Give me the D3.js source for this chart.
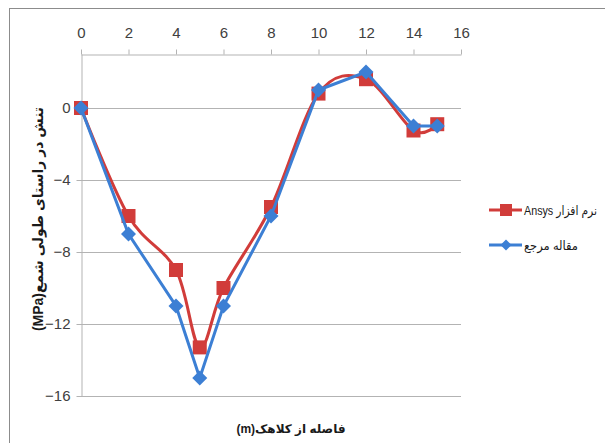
<!DOCTYPE html>
<html><head><meta charset="utf-8">
<script src="https://cdn.jsdelivr.net/npm/d3@7"></script>
<style>body{margin:0;background:#fff}svg{display:block}</style>
</head><body>
<svg id="c" width="605" height="443"></svg>
<script>
const xValues = [0, 2, 4, 5, 6, 8, 10, 12, 14, 15];
const ansysValues = [0, -6, -9, -13.3, -10, -5.5, 0.8, 1.6, -1.25, -0.9];
const refValues = [0, -7, -11, -15, -11, -6, 1.0, 2.0, -1.0, -1.0];
const xTicks = [0, 2, 4, 6, 8, 10, 12, 14, 16];
const yTicks = [0, -4, -8, -12, -16];
const seriesNames = ["نرم افزار Ansys", "مقاله مرجع"];
const xTitle = "فاصله از کلاهک(m)";
const yTitle = "تنش در راستای طولی شمع(MPa)";

const red = "#D13C3A", blue = "#3C7FD4";
const svg = d3.select("#c");
const font = "'Liberation Sans', 'DejaVu Sans', sans-serif";

// outer border
svg.append("rect").attr("x", 9.5).attr("y", 8.5).attr("width", 700).attr("height", 500)
  .attr("fill", "none").attr("stroke", "#8c8c8c").attr("stroke-width", 1);

const x = d3.scaleLinear().domain([0, 16]).range([81, 461]);
const y = d3.scaleLinear().domain([-16, 3]).range([396, 54]);

// gridlines
svg.append("g").selectAll("line").data(yTicks).join("line")
  .attr("x1", x(0)).attr("x2", x(16))
  .attr("y1", d => Math.round(y(d)) + 0.5).attr("y2", d => Math.round(y(d)) + 0.5)
  .attr("stroke", "#b3b3b3").attr("stroke-width", 1);

// top x axis
const xAxis = svg.append("g").attr("transform", `translate(0,${Math.round(y(3)) + 0.5})`)
  .call(d3.axisTop(x).tickValues(xTicks).tickSize(5).tickSizeOuter(0).tickFormat(d3.format("d")));
xAxis.select(".domain").attr("stroke", "#b3b3b3");
xAxis.selectAll(".tick line").attr("stroke", "#b3b3b3");
xAxis.selectAll("text").attr("font-family", font).attr("font-size", 15).attr("fill", "#404040")
  .attr("y", -17).attr("dy", "0");

// left y axis
const yAxis = svg.append("g").attr("transform", `translate(${Math.round(x(0)) + 0.5},0)`)
  .call(d3.axisLeft(y).tickValues(yTicks).tickSize(5).tickSizeOuter(0).tickFormat(d3.format("d")));
yAxis.select(".domain").attr("stroke", "#b3b3b3");
yAxis.selectAll(".tick line").attr("stroke", "#b3b3b3");
yAxis.selectAll("text").attr("font-family", font).attr("font-size", 15).attr("fill", "#404040").attr("x", -11);

const ansys = xValues.map((v, i) => [v, ansysValues[i]]);
const ref = xValues.map((v, i) => [v, refValues[i]]);

const smooth = d3.line().x(d => x(d[0])).y(d => y(d[1])).curve(d3.curveCatmullRom.alpha(0));
const straight = d3.line().x(d => x(d[0])).y(d => y(d[1]));

svg.append("path").attr("d", smooth(ansys)).attr("fill", "none").attr("stroke", red).attr("stroke-width", 3);
svg.append("g").selectAll("rect").data(ansys).join("rect")
  .attr("x", d => x(d[0]) - 7).attr("y", d => y(d[1]) - 7).attr("width", 14).attr("height", 14)
  .attr("fill", red);

svg.append("path").attr("d", straight(ref)).attr("fill", "none").attr("stroke", blue).attr("stroke-width", 3);
const diamond = s => `M0,${-s}L${s},0L0,${s}L${-s},0Z`;
svg.append("g").selectAll("path").data(ref).join("path")
  .attr("transform", d => `translate(${x(d[0])},${y(d[1])})`)
  .attr("d", diamond(7.5)).attr("fill", blue);

// legend
const leg = svg.append("g");
const ly = [210, 245];
const legWidths = [73, 54];
leg.append("line").attr("x1", 489).attr("x2", 522).attr("y1", ly[0]).attr("y2", ly[0]).attr("stroke", red).attr("stroke-width", 3);
leg.append("rect").attr("x", 500).attr("y", ly[0] - 6).attr("width", 12).attr("height", 12).attr("fill", red);
leg.append("line").attr("x1", 489).attr("x2", 522).attr("y1", ly[1]).attr("y2", ly[1]).attr("stroke", blue).attr("stroke-width", 3);
leg.append("path").attr("transform", `translate(506,${ly[1]})`).attr("d", diamond(5.5)).attr("fill", blue);
leg.selectAll("text").data(seriesNames).join("text")
  .attr("x", 524).attr("y", (d, i) => ly[i] + 5)
  .attr("direction", "rtl").attr("text-anchor", "end")
  .attr("font-family", font).attr("font-size", 12.5).attr("fill", "#1a1a1a")
  .attr("textLength", (d, i) => legWidths[i]).attr("lengthAdjust", "spacingAndGlyphs")
  .text(d => d);

// axis titles
svg.append("text").attr("x", 291).attr("y", 433).attr("text-anchor", "middle")
  .attr("direction", "rtl").attr("font-family", font).attr("font-size", 12).attr("font-weight", "bold")
  .attr("fill", "#1a1a1a").text(xTitle);
svg.append("text").attr("transform", "translate(43,219) rotate(-90)").attr("text-anchor", "middle")
  .attr("direction", "rtl").attr("font-family", font).attr("font-size", 14).attr("font-weight", "bold")
  .attr("fill", "#1a1a1a").text(yTitle);
</script>
</body></html>
